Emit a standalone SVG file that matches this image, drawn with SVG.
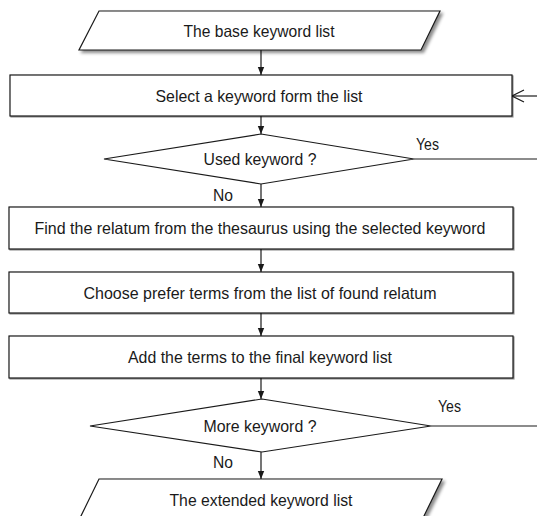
<svg xmlns="http://www.w3.org/2000/svg" width="537" height="516" viewBox="0 0 537 516">
<defs>
<style>
.shape{fill:#fff;stroke:#1a1a1a;stroke-width:1.2}
.t{font-family:"Liberation Sans",Arial,sans-serif;font-size:16.5px;fill:#1a1a1a;text-anchor:middle;dominant-baseline:central}
.lbl{font-family:"Liberation Sans",Arial,sans-serif;font-size:16.5px;fill:#1a1a1a;dominant-baseline:central}
.c{fill:none;stroke:#1a1a1a;stroke-width:1.2}
</style>
<filter id="sh" x="-5%" y="-10%" width="115%" height="140%">
<feDropShadow dx="2.5" dy="2.5" stdDeviation="1.5" flood-color="#000" flood-opacity="0.45"/>
</filter>
<filter id="shr" x="-5%" y="-10%" width="115%" height="140%">
<feDropShadow dx="1" dy="1" stdDeviation="0.6" flood-color="#000" flood-opacity="0.4"/>
</filter>
<marker id="ah" markerWidth="8" markerHeight="8" refX="8" refY="4" orient="auto" markerUnits="userSpaceOnUse">
<path d="M0,0.8 L8,4 L0,7.2 Z" fill="#1a1a1a"/>
</marker>
<marker id="oh" markerWidth="14" markerHeight="14" refX="13" refY="7" orient="auto" markerUnits="userSpaceOnUse">
<path d="M1,1 L13,7 L1,13" fill="none" stroke="#1a1a1a" stroke-width="1.2"/>
</marker>
</defs>
<g id="connectors">
<line class="c" x1="261" y1="50" x2="261" y2="75" marker-end="url(#ah)"/>
<line class="c" x1="261" y1="116" x2="261" y2="134" marker-end="url(#ah)"/>
<line class="c" x1="261" y1="184" x2="261" y2="207" marker-end="url(#ah)"/>
<line class="c" x1="261" y1="249" x2="261" y2="272" marker-end="url(#ah)"/>
<line class="c" x1="261" y1="313" x2="261" y2="336" marker-end="url(#ah)"/>
<line class="c" x1="261" y1="378" x2="261" y2="399" marker-end="url(#ah)"/>
<line class="c" x1="261" y1="452" x2="261" y2="479" marker-end="url(#ah)"/>
<line class="c" x1="414" y1="159" x2="537" y2="159"/>
<line class="c" x1="431" y1="426" x2="537" y2="426"/>
<line class="c" x1="537" y1="96" x2="512" y2="96" marker-end="url(#oh)"/>
<text class="lbl" x="416" y="144" textLength="23" lengthAdjust="spacingAndGlyphs">Yes</text>
<text class="lbl" x="213" y="195" textLength="20" lengthAdjust="spacingAndGlyphs">No</text>
<text class="lbl" x="438" y="406" textLength="23" lengthAdjust="spacingAndGlyphs">Yes</text>
<text class="lbl" x="213" y="462" textLength="20" lengthAdjust="spacingAndGlyphs">No</text>
</g>
<g id="n1">
<polygon class="shape" filter="url(#sh)" points="99,11 440,11 421,50 79,50"/>
<text class="t" x="259" y="31" textLength="151" lengthAdjust="spacingAndGlyphs">The base keyword list</text>
</g>
<g id="n2">
<rect class="shape" filter="url(#shr)" x="10" y="75" width="502" height="41"/>
<text class="t" x="259" y="96" textLength="207" lengthAdjust="spacingAndGlyphs">Select a keyword form the list</text>
</g>
<g id="n3">
<polygon class="shape" points="261,134 414,159 261,184 104,159"/>
<text class="t" x="260" y="159" textLength="113" lengthAdjust="spacingAndGlyphs">Used keyword ?</text>
</g>
<g id="n4">
<rect class="shape" filter="url(#shr)" x="9" y="207" width="504" height="42"/>
<text class="t" x="260" y="228" textLength="451" lengthAdjust="spacingAndGlyphs">Find the relatum from the thesaurus using the selected keyword</text>
</g>
<g id="n5">
<rect class="shape" filter="url(#shr)" x="9" y="272" width="504" height="41"/>
<text class="t" x="260" y="293" textLength="353" lengthAdjust="spacingAndGlyphs">Choose prefer terms from the list of found relatum</text>
</g>
<g id="n6">
<rect class="shape" filter="url(#shr)" x="9" y="336" width="504" height="42"/>
<text class="t" x="260" y="357" textLength="264" lengthAdjust="spacingAndGlyphs">Add the terms to the final keyword list</text>
</g>
<g id="n7">
<polygon class="shape" points="262,399 431,426 262,452 90,426"/>
<text class="t" x="260" y="426" textLength="113" lengthAdjust="spacingAndGlyphs">More keyword ?</text>
</g>
<g id="n8">
<polygon class="shape" filter="url(#sh)" points="99,479 442,479 423,518 80,518"/>
<text class="t" x="261" y="500" textLength="183" lengthAdjust="spacingAndGlyphs">The extended keyword list</text>
</g>
</svg>
